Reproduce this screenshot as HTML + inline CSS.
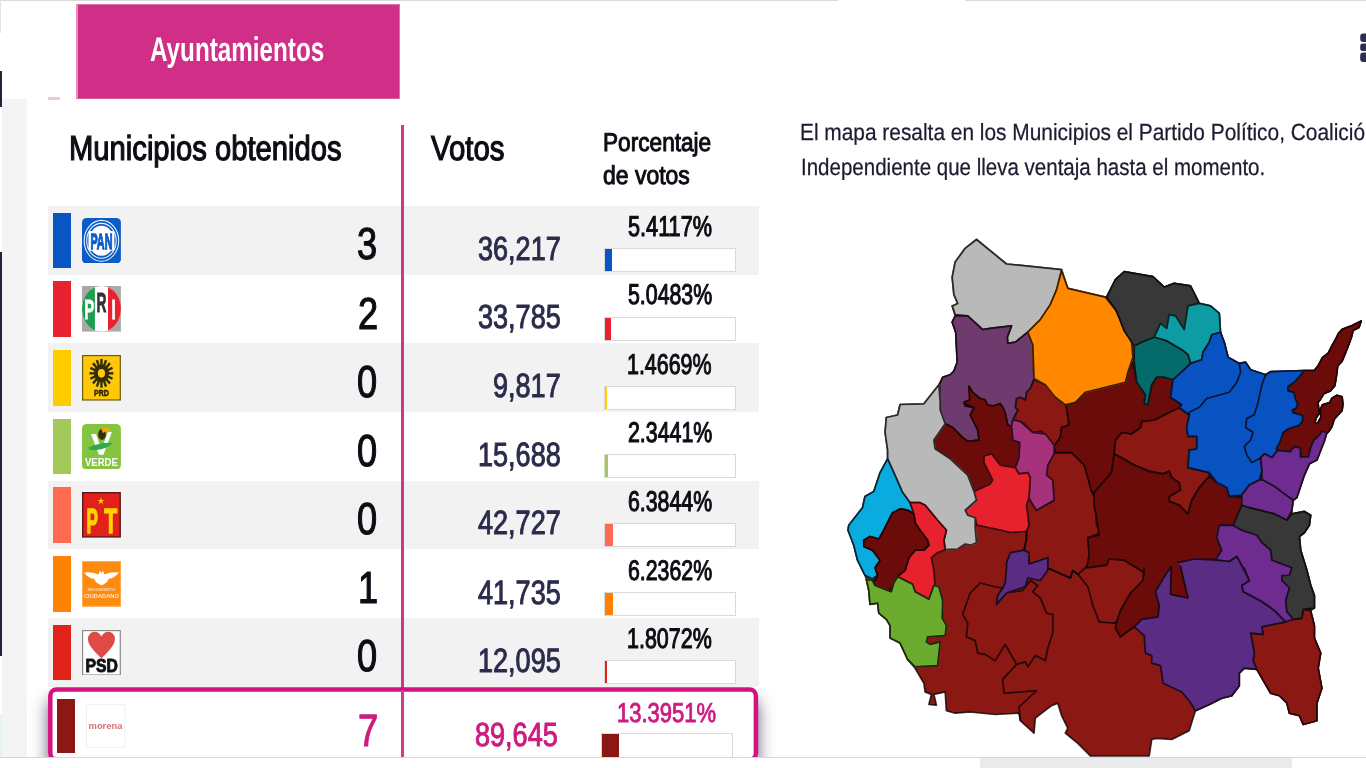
<!DOCTYPE html>
<html lang="es">
<head>
<meta charset="utf-8">
<title>Ayuntamientos</title>
<style>
html,body{margin:0;padding:0;}
body{width:1366px;height:768px;overflow:hidden;background:#fff;position:relative;font-family:"Liberation Sans", sans-serif;}
#page{position:absolute;left:0;top:0;width:1366px;height:768px;overflow:hidden;background:#fff;}
.a{position:absolute;}
.t{position:absolute;white-space:nowrap;line-height:1;transform-origin:0 0;text-rendering:geometricPrecision;}
.lg{position:absolute;display:block;}
.row{position:absolute;left:48px;width:710.5px;height:68.65px;}
.row.g{background:#f3f2f3;}
.bar{position:absolute;width:18px;height:55.8px;}
.pb{position:absolute;width:132px;height:24px;box-sizing:border-box;border:1.5px solid #d9d9d9;background:#fff;}
.pf{position:absolute;left:0;top:0;bottom:0;}
</style>
</head>
<body>
<div id="page">
<div class="a" style="left:0;top:0;width:838px;height:1px;background:#dadada"></div>
<div class="a" style="left:965px;top:0;width:401px;height:1px;background:#dadada"></div>
<div class="a" style="left:0;top:0;width:1px;height:33px;background:#e4e4e4"></div>
<div class="a" style="left:2px;top:98.5px;width:25px;height:659px;background:#f4f4f4"></div>
<div class="a" style="left:0;top:71px;width:1.5px;height:36px;background:#23233a"></div>
<div class="a" style="left:0;top:252px;width:1.5px;height:404px;background:#23233a"></div>
<div class="a" style="left:0;top:714px;width:2px;height:43px;background:#e3f1f8"></div>
<div class="a" style="left:48px;top:97px;width:12px;height:3px;background:#f5c3dd"></div>
<div class="a" style="left:76px;top:4px;width:323.5px;height:95px;background:#d12e87;box-sizing:border-box;border-left:2px solid #ee8cc0;border-top:1px solid #e070ae;border-bottom:1px solid #dd5ba3;border-right:1px solid #e070ae"></div>
<svg class="a" style="left:1359px;top:32px" width="8" height="32" viewBox="0 0 8 32"><rect x="1.2" y="1.5" width="10" height="8.5" rx="3" fill="#2d2e4e"/><rect x="1.2" y="11.5" width="10" height="7.5" rx="2.5" fill="#2d2e4e"/><rect x="1.2" y="20.5" width="10" height="9.5" rx="3" fill="#2d2e4e"/></svg>
<div class="row g" style="top:206.00px"></div>
<div class="bar" style="left:53px;top:212.60px;background:#0a55c4"></div>
<svg class="lg" style="left:82.2px;top:217.8px" width="38.9" height="45.6" viewBox="0 0 39 46" preserveAspectRatio="none"><rect x="0" y="0" width="39" height="46" rx="4.5" fill="#0b5cc7"/><ellipse cx="19.5" cy="23" rx="17.3" ry="20.6" fill="none" stroke="#e8f0fb" stroke-width="1.1"/><ellipse cx="19.5" cy="23" rx="14.8" ry="17.6" fill="none" stroke="#e8f0fb" stroke-width="1.1"/><ellipse cx="19.5" cy="23" rx="12.6" ry="15.2" fill="#fff"/><rect x="6.5" y="13" width="26" height="20" rx="2" fill="#fff"/><text x="19.5" y="31.2" text-anchor="middle" font-family="Liberation Sans, sans-serif" font-weight="700" font-size="22" textLength="22" lengthAdjust="spacingAndGlyphs" fill="#0b5cc7" stroke="#0b5cc7" stroke-width="1.3">PAN</text></svg>
<div class="pb" style="left:603.7px;top:248.40px"><div class="pf" style="width:6.98px;background:#0a55c4"></div></div>
<div class="row" style="top:274.65px"></div>
<div class="bar" style="left:53px;top:281.25px;background:#e8212f"></div>
<svg class="lg" style="left:82.2px;top:286.45px" width="38.9" height="45.6" viewBox="0 0 39 46" preserveAspectRatio="none"><rect width="39" height="46" fill="#a9a9a9"/><ellipse cx="19.5" cy="23" rx="19.5" ry="23" fill="#fff"/><path d="M13 1.3 A19.5 23 0 0 0 13 44.7 Z" fill="#1f9e4d"/><path d="M26 1.3 A19.5 23 0 0 1 26 44.7 Z" fill="#e8212f"/><rect x="13" y="1" width="13" height="44" fill="#fff"/><text x="7.3" y="33.5" text-anchor="middle" font-family="Liberation Sans, sans-serif" font-weight="700" font-size="27" textLength="10" lengthAdjust="spacingAndGlyphs" fill="#fff" stroke="#fff" stroke-width="0.9">P</text><text x="19.5" y="26" text-anchor="middle" font-family="Liberation Sans, sans-serif" font-weight="700" font-size="27" textLength="10" lengthAdjust="spacingAndGlyphs" fill="#333" stroke="#333" stroke-width="0.9">R</text><text x="31.7" y="33.5" text-anchor="middle" font-family="Liberation Sans, sans-serif" font-weight="700" font-size="27" textLength="4.2" lengthAdjust="spacingAndGlyphs" fill="#fff" stroke="#fff" stroke-width="0.9">I</text></svg>
<div class="pb" style="left:603.7px;top:317.05px"><div class="pf" style="width:6.51px;background:#e8212f"></div></div>
<div class="row g" style="top:343.30px"></div>
<div class="bar" style="left:53px;top:349.90px;background:#ffcc00"></div>
<svg class="lg" style="left:82.2px;top:355.1px" width="38.9" height="45.6" viewBox="0 0 39 46" preserveAspectRatio="none"><rect x="0.6" y="0.6" width="37.8" height="44.8" fill="#ffc90a" stroke="#6b5a10" stroke-width="1.2"/><line x1="24.5" y1="18.5" x2="31.5" y2="18.5" stroke="#332c08" stroke-width="2.4"/><line x1="24.1" y1="20.8" x2="30.6" y2="24.0" stroke="#332c08" stroke-width="2.4"/><line x1="23.0" y1="22.7" x2="28.0" y2="28.8" stroke="#332c08" stroke-width="2.4"/><line x1="21.4" y1="24.0" x2="24.1" y2="31.9" stroke="#332c08" stroke-width="2.4"/><line x1="19.5" y1="24.5" x2="19.5" y2="33.0" stroke="#332c08" stroke-width="2.4"/><line x1="17.6" y1="24.0" x2="14.9" y2="31.9" stroke="#332c08" stroke-width="2.4"/><line x1="16.0" y1="22.7" x2="11.0" y2="28.8" stroke="#332c08" stroke-width="2.4"/><line x1="14.9" y1="20.8" x2="8.4" y2="24.0" stroke="#332c08" stroke-width="2.4"/><line x1="14.5" y1="18.5" x2="7.5" y2="18.5" stroke="#332c08" stroke-width="2.4"/><line x1="14.9" y1="16.2" x2="8.4" y2="13.0" stroke="#332c08" stroke-width="2.4"/><line x1="16.0" y1="14.3" x2="11.0" y2="8.2" stroke="#332c08" stroke-width="2.4"/><line x1="17.6" y1="13.0" x2="14.9" y2="5.1" stroke="#332c08" stroke-width="2.4"/><line x1="19.5" y1="12.5" x2="19.5" y2="4.0" stroke="#332c08" stroke-width="2.4"/><line x1="21.4" y1="13.0" x2="24.1" y2="5.1" stroke="#332c08" stroke-width="2.4"/><line x1="23.0" y1="14.3" x2="28.0" y2="8.2" stroke="#332c08" stroke-width="2.4"/><line x1="24.1" y1="16.2" x2="30.6" y2="13.0" stroke="#332c08" stroke-width="2.4"/><ellipse cx="19.5" cy="18.5" rx="7.6" ry="9" fill="#332c08"/><ellipse cx="19.5" cy="18.5" rx="3.6" ry="4.4" fill="#ffc90a"/><text x="19.5" y="41.8" text-anchor="middle" font-family="Liberation Sans, sans-serif" font-weight="700" font-size="9" textLength="15" lengthAdjust="spacingAndGlyphs" fill="#2a2508" stroke="#2a2508" stroke-width="0.5">PRD</text></svg>
<div class="pb" style="left:603.7px;top:385.70px"><div class="pf" style="width:1.89px;background:#ffcc00"></div></div>
<div class="row" style="top:411.95px"></div>
<div class="bar" style="left:53px;top:418.55px;background:#a3c95a"></div>
<svg class="lg" style="left:82.2px;top:423.75px" width="38.9" height="45.6" viewBox="0 0 39 46" preserveAspectRatio="none"><rect width="39" height="46" rx="4.5" fill="#85c441"/><path d="M9 10 L14 10 L19.5 26 L26 8 L30 8 L21.5 31 L17 31 Z" fill="#fff"/><path d="M6 24 Q19 18 31 19 Q22 28 8 26 Z" fill="#2fa84f"/><ellipse cx="20" cy="10.5" rx="3.8" ry="5.6" fill="#3a2a10"/><path d="M19 4 Q27 2 29 8 Q24 6 21 9 Z" fill="#f2a900"/><text x="19.5" y="42" text-anchor="middle" font-family="Liberation Sans, sans-serif" font-weight="700" font-size="11" textLength="33" lengthAdjust="spacingAndGlyphs" fill="#fff" >VERDE</text></svg>
<div class="pb" style="left:603.7px;top:454.35px"><div class="pf" style="width:3.02px;background:#a3c95a"></div></div>
<div class="row g" style="top:480.60px"></div>
<div class="bar" style="left:53px;top:487.20px;background:#ff6a50"></div>
<svg class="lg" style="left:82.2px;top:492.4px" width="38.9" height="45.6" viewBox="0 0 39 46" preserveAspectRatio="none"><rect x="0.7" y="0.7" width="37.6" height="44.6" fill="#e2201c" stroke="#5a1a18" stroke-width="1.4"/><text x="10.2" y="41.3" text-anchor="middle" font-family="Liberation Sans, sans-serif" font-weight="700" font-size="35" textLength="11.5" lengthAdjust="spacingAndGlyphs" fill="#ffd400" stroke="#ffd400" stroke-width="1.3">P</text><text x="28.8" y="41.3" text-anchor="middle" font-family="Liberation Sans, sans-serif" font-weight="700" font-size="35" textLength="13" lengthAdjust="spacingAndGlyphs" fill="#ffd400" stroke="#ffd400" stroke-width="1.3">T</text><path d="M19 5.4 L19.8 8 L22.4 8 L20.3 9.7 L21.1 12.3 L19 10.7 L16.9 12.3 L17.7 9.7 L15.6 8 L18.2 8 Z" fill="#ffd400"/></svg>
<div class="pb" style="left:603.7px;top:523.00px"><div class="pf" style="width:8.24px;background:#ff6a50"></div></div>
<div class="row" style="top:549.25px"></div>
<div class="bar" style="left:53px;top:555.85px;background:#ff8300"></div>
<svg class="lg" style="left:82.2px;top:561.05px" width="38.9" height="45.6" viewBox="0 0 39 46" preserveAspectRatio="none"><rect width="39" height="46" fill="#ff8a10"/><rect x="0.5" y="0.5" width="38" height="45" fill="none" stroke="#ffab55" stroke-width="1"/><path d="M2 11.5 Q10 10.5 16.5 13.5 L18 9.5 L19.5 12 L21 9.5 L22.5 13.5 Q29 10.5 37 11.5 Q33 17 27 18 Q25.5 22 22 23.5 L19.5 24.5 L17 23.5 Q13.5 22 12 18 Q6 17 2 11.5 Z" fill="#fff"/><text x="19.5" y="30.3" text-anchor="middle" font-family="Liberation Sans, sans-serif" font-weight="700" font-size="4.2" textLength="28" lengthAdjust="spacingAndGlyphs" fill="#ffd9b0" >MOVIMIENTO</text><text x="19.5" y="37.3" text-anchor="middle" font-family="Liberation Sans, sans-serif" font-weight="700" font-size="6" textLength="35" lengthAdjust="spacingAndGlyphs" fill="#ffe8d0" >CIUDADANO</text></svg>
<div class="pb" style="left:603.7px;top:591.65px"><div class="pf" style="width:8.04px;background:#ff8300"></div></div>
<div class="row g" style="top:617.90px"></div>
<div class="bar" style="left:53px;top:624.50px;background:#e0221a"></div>
<svg class="lg" style="left:82.2px;top:629.7px" width="38.9" height="45.6" viewBox="0 0 39 46" preserveAspectRatio="none"><rect x="0.6" y="0.6" width="37.8" height="44.8" fill="#fff" stroke="#8a8a8a" stroke-width="1.2"/><path d="M19.5 28.5 C 7 17, 4 10.5, 7 5 C 10.5 0, 17 1, 19.5 6.5 C 22 1, 28.5 0, 32 5 C 35 10.5, 32 17, 19.5 28.5 Z" fill="#e04a44"/><text x="19.7" y="42.3" text-anchor="middle" font-family="Liberation Sans, sans-serif" font-weight="700" font-size="18" textLength="32.5" lengthAdjust="spacingAndGlyphs" fill="#111" stroke="#111" stroke-width="0.9">PSD</text></svg>
<div class="pb" style="left:603.7px;top:660.30px"><div class="pf" style="width:2.33px;background:#e0221a"></div></div>
<div class="a" style="left:400.6px;top:125px;width:3px;height:632px;background:#c9388b"></div>
<div class="a" style="left:0;top:688px;width:820px;height:80px;overflow:hidden"><div class="a" style="left:48px;top:-0.7px;width:710.2px;height:74px;border-radius:9px;background:#fff;box-shadow:0 12px 16px rgba(35,35,75,.72)"></div></div>
<svg class="a" style="left:0;top:680px" width="800" height="88" viewBox="0 680 800 88"><rect x="50.3" y="689.5" width="705.6" height="70" rx="6.2" ry="6.2" fill="#fff" stroke="#d4127f" stroke-width="4.5"/></svg>
<div class="a" style="left:400.6px;top:690px;width:3px;height:67px;background:#d03a90"></div>
<div class="bar" style="left:57.2px;top:698.9px;height:54.6px;width:17.6px;background:#8b1812"></div>
<svg class="lg" style="left:86.2px;top:703.9px" width="39.4" height="43.8" viewBox="0 0 39 46" preserveAspectRatio="none"><rect x="0.5" y="0.5" width="38" height="45" fill="#fff" stroke="#f1f1f1" stroke-width="1"/><text x="19.3" y="26.6" text-anchor="middle" font-family="Liberation Sans, sans-serif" font-weight="700" font-size="9" textLength="33.5" lengthAdjust="spacingAndGlyphs" fill="#d2727a" >morena</text></svg>
<div class="pb" style="left:600.6px;top:733.2px;height:30px"><div class="pf" style="width:17.6px;background:#8b1812"></div></div>
<span class="t" style="left:149.81px;top:32.80px;font-size:34.16px;color:#fff;transform:scaleX(0.7099);font-weight:700;">Ayuntamientos</span>
<span class="t" style="left:68.78px;top:132.30px;font-size:34.58px;color:#0c0c14;transform:scaleX(0.8443);-webkit-text-stroke:1.2px #0c0c14;">Municipios obtenidos</span>
<span class="t" style="left:431.16px;top:132.30px;font-size:34.58px;color:#0c0c14;transform:scaleX(0.8501);-webkit-text-stroke:1.2px #0c0c14;">Votos</span>
<span class="t" style="left:602.58px;top:131.25px;font-size:25.85px;color:#0c0c14;transform:scaleX(0.8758);-webkit-text-stroke:1.0px #0c0c14;">Porcentaje</span>
<span class="t" style="left:603.09px;top:164.25px;font-size:25.85px;color:#0c0c14;transform:scaleX(0.8887);-webkit-text-stroke:1.0px #0c0c14;">de votos</span>
<span class="t" style="left:357.43px;top:222.40px;font-size:44.74px;color:#0c0c14;transform:scaleX(0.8088);-webkit-text-stroke:1.2px #0c0c14;">3</span>
<span class="t" style="left:478.02px;top:232.86px;font-size:33.44px;color:#2b2c4c;transform:scaleX(0.8093);-webkit-text-stroke:1.0px #2b2c4c;">36,217</span>
<span class="t" style="left:628.35px;top:212.57px;font-size:28.55px;color:#0c0c14;transform:scaleX(0.7598);-webkit-text-stroke:1.1px #0c0c14;">5.4117%</span>
<span class="t" style="left:357.92px;top:291.74px;font-size:44.74px;color:#0c0c14;transform:scaleX(0.8088);-webkit-text-stroke:1.2px #0c0c14;">2</span>
<span class="t" style="left:477.95px;top:301.45px;font-size:33.49px;color:#2b2c4c;transform:scaleX(0.8082);-webkit-text-stroke:1.0px #2b2c4c;">33,785</span>
<span class="t" style="left:628.38px;top:281.26px;font-size:28.48px;color:#0c0c14;transform:scaleX(0.7488);-webkit-text-stroke:1.1px #0c0c14;">5.0483%</span>
<span class="t" style="left:357.07px;top:360.28px;font-size:44.74px;color:#0c0c14;transform:scaleX(0.8088);-webkit-text-stroke:1.2px #0c0c14;">0</span>
<span class="t" style="left:493.07px;top:370.03px;font-size:33.54px;color:#2b2c4c;transform:scaleX(0.8070);-webkit-text-stroke:1.0px #2b2c4c;">9,817</span>
<span class="t" style="left:627.35px;top:350.57px;font-size:28.61px;color:#0c0c14;transform:scaleX(0.7487);-webkit-text-stroke:1.1px #0c0c14;">1.4669%</span>
<span class="t" style="left:357.07px;top:428.82px;font-size:44.74px;color:#0c0c14;transform:scaleX(0.8088);-webkit-text-stroke:1.2px #0c0c14;">0</span>
<span class="t" style="left:477.97px;top:438.61px;font-size:33.59px;color:#2b2c4c;transform:scaleX(0.8059);-webkit-text-stroke:1.0px #2b2c4c;">15,688</span>
<span class="t" style="left:628.44px;top:419.26px;font-size:28.53px;color:#0c0c14;transform:scaleX(0.7485);-webkit-text-stroke:1.1px #0c0c14;">2.3441%</span>
<span class="t" style="left:357.07px;top:497.36px;font-size:44.74px;color:#0c0c14;transform:scaleX(0.8088);-webkit-text-stroke:1.2px #0c0c14;">0</span>
<span class="t" style="left:478.03px;top:507.20px;font-size:33.64px;color:#2b2c4c;transform:scaleX(0.8047);-webkit-text-stroke:1.0px #2b2c4c;">42,727</span>
<span class="t" style="left:628.36px;top:487.94px;font-size:28.46px;color:#0c0c14;transform:scaleX(0.7487);-webkit-text-stroke:1.1px #0c0c14;">6.3844%</span>
<span class="t" style="left:357.76px;top:565.90px;font-size:44.74px;color:#0c0c14;transform:scaleX(0.8088);-webkit-text-stroke:1.2px #0c0c14;">1</span>
<span class="t" style="left:477.95px;top:576.58px;font-size:33.68px;color:#2b2c4c;transform:scaleX(0.8036);-webkit-text-stroke:1.0px #2b2c4c;">41,735</span>
<span class="t" style="left:628.37px;top:556.63px;font-size:28.39px;color:#0c0c14;transform:scaleX(0.7507);-webkit-text-stroke:1.1px #0c0c14;">6.2362%</span>
<span class="t" style="left:357.07px;top:634.44px;font-size:44.74px;color:#0c0c14;transform:scaleX(0.8088);-webkit-text-stroke:1.2px #0c0c14;">0</span>
<span class="t" style="left:477.96px;top:645.16px;font-size:33.73px;color:#2b2c4c;transform:scaleX(0.8024);-webkit-text-stroke:1.0px #2b2c4c;">12,095</span>
<span class="t" style="left:627.35px;top:625.31px;font-size:28.32px;color:#0c0c14;transform:scaleX(0.7582);-webkit-text-stroke:1.1px #0c0c14;">1.8072%</span>
<span class="t" style="left:357.76px;top:708.09px;font-size:45.21px;color:#cc1b80;transform:scaleX(0.8044);-webkit-text-stroke:1.1px #cc1b80;">7</span>
<span class="t" style="left:474.77px;top:718.86px;font-size:33.44px;color:#cc1b80;transform:scaleX(0.8093);-webkit-text-stroke:1.0px #cc1b80;">89,645</span>
<span class="t" style="left:616.72px;top:698.65px;font-size:27.18px;color:#cc1b80;transform:scaleX(0.8106);-webkit-text-stroke:0.9px #cc1b80;">13.3951%</span>
<span class="t" style="left:800.34px;top:120.99px;font-size:23.40px;color:#1c1c30;transform:scaleX(0.8924);-webkit-text-stroke:0.25px #1c1c30;">El mapa resalta en los Municipios el Partido Político, Coalición o Candidatura</span>
<span class="t" style="left:800.71px;top:155.83px;font-size:23.54px;color:#1c1c30;transform:scaleX(0.8719);-webkit-text-stroke:0.25px #1c1c30;">Independiente que lleva ventaja hasta el momento.</span>
<svg class="a" id="map" style="left:0;top:0" width="1366" height="768" viewBox="0 0 1366 768">
<g stroke-linejoin="round">
<polygon fill="#8c1813" stroke="#0a0404" stroke-width="1.7" stroke-opacity="0.8" points="976.5,239.5 1006.5,264.0 1061.6,269.6 1067.8,288.3 1105.4,297.1 1106.6,297.1 1115.4,279.6 1124.2,271.6 1152.9,276.6 1164.2,287.1 1174.2,283.3 1190.5,285.8 1199.3,303.4 1210.5,305.9 1219.3,313.4 1220.5,332.2 1224.3,342.2 1228.1,357.2 1239.3,363.4 1245.6,362.2 1250.6,369.7 1265.6,374.7 1270.6,371.7 1304.4,370.5 1314.3,370.4 1318.0,366.0 1322.4,357.6 1328.2,353.2 1331.9,345.9 1335.5,339.3 1338.5,333.4 1342.1,329.4 1352.0,325.5 1361.2,321.0 1359.0,327.6 1353.1,330.5 1351.3,337.8 1348.0,346.6 1345.1,353.9 1342.1,361.2 1337.7,366.0 1336.3,377.0 1334.8,385.8 1330.4,390.9 1323.8,393.8 1320.2,399.7 1318.0,402.6 1318.7,408.5 1319.4,413.6 1316.0,418.0 1315.0,422.5 1317.5,423.5 1321.0,417.0 1320.9,415.8 1320.2,409.9 1322.4,404.8 1329.7,402.6 1331.9,398.2 1337.0,395.3 1342.1,396.7 1342.9,404.1 1342.1,410.7 1338.5,414.4 1334.1,419.5 1331.9,426.8 1329.0,431.2 1326.8,433.4 1323.2,442.6 1316.9,460.1 1309.4,463.8 1304.4,475.1 1299.4,490.1 1296.9,497.6 1293.2,500.2 1291.9,510.2 1291.9,513.9 1304.4,511.4 1310.7,515.2 1309.4,525.2 1304.4,532.7 1299.4,536.5 1300.7,550.2 1306.9,570.3 1310.7,585.3 1314.4,595.5 1314.4,608.1 1310.7,610.6 1314.4,625.6 1314.4,638.1 1320.7,653.1 1318.2,668.2 1321.9,688.2 1316.9,703.2 1316.9,720.7 1303.2,724.5 1299.4,715.7 1289.4,713.2 1286.9,703.2 1279.4,695.7 1270.6,693.2 1256.8,669.4 1244.3,668.2 1239.3,673.2 1239.3,685.7 1231.8,695.7 1221.8,698.2 1209.3,704.5 1195.5,710.7 1193.0,718.2 1189.2,730.7 1171.7,739.5 1156.7,738.3 1151.7,739.5 1149.2,755.8 1090.3,755.8 1077.8,743.3 1065.3,733.2 1067.8,728.2 1061.6,715.7 1057.8,703.2 1051.5,705.7 1035.3,718.2 1034.0,733.2 1020.3,720.7 1019.0,713.2 995.2,714.5 970.2,712.0 955.2,713.2 946.4,710.7 945.2,691.9 933.9,694.4 936.4,705.2 928.9,704.5 931.4,694.4 925.1,691.9 923.9,683.2 915.1,668.2 907.6,659.4 900.1,643.1 890.1,638.1 890.1,625.6 886.3,619.3 878.8,613.1 877.6,603.1 870.0,604.3 868.8,590.5 866.3,579.3 865.0,575.3 857.5,560.2 853.8,545.2 848.0,530.2 848.8,525.2 862.5,507.7 865.0,496.4 873.8,491.4 880.1,472.6 887.6,458.8 887.6,450.1 885.1,432.5 886.3,417.5 897.6,415.0 900.1,404.5 923.9,403.8 938.9,384.7 942.7,377.2 950.2,374.7 953.9,371.0 957.2,362.2 955.7,332.2 952.2,322.1 955.2,315.9 952.2,305.9 957.7,303.4 953.9,294.6 952.2,277.1 955.2,262.0 965.2,248.3"/>
<polygon fill="#8c1813" stroke="#8c1813" stroke-width="1.5" points="1034.0,379.7 1045.3,384.7 1055.3,397.2 1065.3,404.8 1066.6,407.5 1069.1,425.0 1061.6,427.5 1060.3,437.6 1054.0,446.3 1046.5,437.6 1041.5,431.3 1032.8,432.5 1024.0,423.8 1020.3,421.3 1012.8,420.0 1017.8,410.0 1015.3,407.3 1016.5,398.5 1020.3,397.2 1025.3,399.8 1026.5,392.2 1030.3,388.5"/>
<polygon fill="none" stroke="#0a0404" stroke-width="1.7" stroke-opacity="0.8" points="1034.0,379.7 1045.3,384.7 1055.3,397.2 1065.3,404.8 1066.6,407.5 1069.1,425.0 1061.6,427.5 1060.3,437.6 1054.0,446.3 1046.5,437.6 1041.5,431.3 1032.8,432.5 1024.0,423.8 1020.3,421.3 1012.8,420.0 1017.8,410.0 1015.3,407.3 1016.5,398.5 1020.3,397.2 1025.3,399.8 1026.5,392.2 1030.3,388.5"/>
<polygon fill="#8c1813" stroke="#8c1813" stroke-width="1.5" points="1054.1,453.8 1055.3,452.6 1072.8,452.6 1084.1,462.6 1087.9,477.6 1091.6,491.4 1095.4,500.2 1096.6,525.2 1100.4,532.7 1087.9,537.7 1090.4,550.2 1091.6,562.7 1086.6,566.5 1077.9,574.3 1072.8,570.5 1070.3,578.0 1047.8,568.0 1047.8,557.7 1040.3,560.2 1029.0,564.0 1029.0,552.7 1024.0,550.2 1026.5,539.0 1026.5,531.4 1029.0,525.2 1027.8,515.2 1026.5,505.2 1029.0,497.6 1031.5,502.7 1036.5,510.2 1045.3,505.2 1054.1,500.2 1052.8,480.1 1046.6,475.1 1047.8,465.1"/>
<polygon fill="none" stroke="#0a0404" stroke-width="1.7" stroke-opacity="0.8" points="1054.1,453.8 1055.3,452.6 1072.8,452.6 1084.1,462.6 1087.9,477.6 1091.6,491.4 1095.4,500.2 1096.6,525.2 1100.4,532.7 1087.9,537.7 1090.4,550.2 1091.6,562.7 1086.6,566.5 1077.9,574.3 1072.8,570.5 1070.3,578.0 1047.8,568.0 1047.8,557.7 1040.3,560.2 1029.0,564.0 1029.0,552.7 1024.0,550.2 1026.5,539.0 1026.5,531.4 1029.0,525.2 1027.8,515.2 1026.5,505.2 1029.0,497.6 1031.5,502.7 1036.5,510.2 1045.3,505.2 1054.1,500.2 1052.8,480.1 1046.6,475.1 1047.8,465.1"/>
<polygon fill="#8c1813" stroke="#8c1813" stroke-width="1.5" points="1114.1,453.8 1115.4,440.1 1121.6,432.5 1131.7,433.8 1140.4,427.5 1141.7,421.3 1154.2,420.0 1164.2,415.0 1179.2,407.5 1189.2,415.0 1186.7,427.5 1188.0,436.3 1196.8,436.3 1196.8,448.8 1189.2,450.1 1188.0,467.6 1209.3,472.6 1209.3,476.4 1199.3,487.6 1191.8,500.2 1188.0,513.9 1179.2,505.2 1169.2,501.4 1169.2,496.4 1180.5,490.1 1179.2,482.6 1171.7,477.6 1169.2,471.4 1163.0,473.9 1149.2,471.4 1134.2,465.1"/>
<polygon fill="none" stroke="#0a0404" stroke-width="1.7" stroke-opacity="0.8" points="1114.1,453.8 1115.4,440.1 1121.6,432.5 1131.7,433.8 1140.4,427.5 1141.7,421.3 1154.2,420.0 1164.2,415.0 1179.2,407.5 1189.2,415.0 1186.7,427.5 1188.0,436.3 1196.8,436.3 1196.8,448.8 1189.2,450.1 1188.0,467.6 1209.3,472.6 1209.3,476.4 1199.3,487.6 1191.8,500.2 1188.0,513.9 1179.2,505.2 1169.2,501.4 1169.2,496.4 1180.5,490.1 1179.2,482.6 1171.7,477.6 1169.2,471.4 1163.0,473.9 1149.2,471.4 1134.2,465.1"/>
<polygon fill="#8c1813" stroke="#8c1813" stroke-width="1.5" points="1303.2,609.3 1310.7,610.6 1314.4,625.6 1314.4,638.1 1320.7,653.1 1318.2,668.2 1321.9,688.2 1316.9,703.2 1316.9,720.7 1303.2,724.5 1299.4,715.7 1289.4,713.2 1286.9,703.2 1279.4,695.7 1270.6,693.2 1256.8,669.4 1253.1,660.6 1254.3,653.1 1250.6,633.1 1263.1,634.3 1261.9,626.8 1285.6,621.8 1293.2,619.3 1301.9,618.1"/>
<polygon fill="none" stroke="#0a0404" stroke-width="1.7" stroke-opacity="0.8" points="1303.2,609.3 1310.7,610.6 1314.4,625.6 1314.4,638.1 1320.7,653.1 1318.2,668.2 1321.9,688.2 1316.9,703.2 1316.9,720.7 1303.2,724.5 1299.4,715.7 1289.4,713.2 1286.9,703.2 1279.4,695.7 1270.6,693.2 1256.8,669.4 1253.1,660.6 1254.3,653.1 1250.6,633.1 1263.1,634.3 1261.9,626.8 1285.6,621.8 1293.2,619.3 1301.9,618.1"/>
<polygon fill="#8c1813" stroke="#8c1813" stroke-width="1.5" points="980.2,583.0 995.2,586.8 1002.7,588.0 997.7,595.5 996.5,604.3 1006.5,593.0 1022.8,590.5 1030.3,580.5 1037.8,585.5 1032.8,591.8 1040.3,598.0 1046.6,613.1 1052.8,614.3 1052.8,633.1 1047.8,648.1 1045.3,660.6 1035.3,655.6 1027.8,666.9 1025.3,661.9 1016.5,664.4 1005.2,644.4 995.2,660.6 985.2,654.4 977.7,653.1 975.2,640.6 966.4,636.9 967.7,623.1 962.7,614.3 970.2,593.0"/>
<polygon fill="none" stroke="#0a0404" stroke-width="1.7" stroke-opacity="0.8" points="980.2,583.0 995.2,586.8 1002.7,588.0 997.7,595.5 996.5,604.3 1006.5,593.0 1022.8,590.5 1030.3,580.5 1037.8,585.5 1032.8,591.8 1040.3,598.0 1046.6,613.1 1052.8,614.3 1052.8,633.1 1047.8,648.1 1045.3,660.6 1035.3,655.6 1027.8,666.9 1025.3,661.9 1016.5,664.4 1005.2,644.4 995.2,660.6 985.2,654.4 977.7,653.1 975.2,640.6 966.4,636.9 967.7,623.1 962.7,614.3 970.2,593.0"/>
<polygon fill="#6c0c0a" stroke="#6c0c0a" stroke-width="1.5" points="1132.9,362.2 1136.7,382.2 1145.4,394.7 1144.2,403.5 1147.9,404.8 1149.2,397.2 1151.7,384.7 1156.7,377.2 1164.2,377.2 1173.0,379.7 1170.5,397.2 1181.7,404.8 1179.2,407.5 1164.2,415.0 1154.2,420.0 1141.7,421.3 1140.4,427.5 1131.7,433.8 1121.6,432.5 1115.4,440.1 1114.1,453.8 1111.6,472.6 1094.1,492.6 1091.6,491.4 1087.8,477.6 1084.1,465.1 1071.6,452.6 1055.3,452.6 1054.0,446.3 1060.3,437.6 1061.6,427.5 1069.1,425.0 1066.6,407.5 1065.3,404.8 1075.4,402.3 1085.4,392.2 1105.4,387.2 1125.4,382.2 1127.9,372.2"/>
<polygon fill="none" stroke="#0a0404" stroke-width="1.7" stroke-opacity="0.8" points="1132.9,362.2 1136.7,382.2 1145.4,394.7 1144.2,403.5 1147.9,404.8 1149.2,397.2 1151.7,384.7 1156.7,377.2 1164.2,377.2 1173.0,379.7 1170.5,397.2 1181.7,404.8 1179.2,407.5 1164.2,415.0 1154.2,420.0 1141.7,421.3 1140.4,427.5 1131.7,433.8 1121.6,432.5 1115.4,440.1 1114.1,453.8 1111.6,472.6 1094.1,492.6 1091.6,491.4 1087.8,477.6 1084.1,465.1 1071.6,452.6 1055.3,452.6 1054.0,446.3 1060.3,437.6 1061.6,427.5 1069.1,425.0 1066.6,407.5 1065.3,404.8 1075.4,402.3 1085.4,392.2 1105.4,387.2 1125.4,382.2 1127.9,372.2"/>
<polygon fill="#6c0c0a" stroke="#6c0c0a" stroke-width="1.5" points="1094.1,492.6 1111.6,472.6 1114.1,453.8 1134.2,465.1 1149.2,471.4 1163.0,473.9 1169.2,471.4 1171.7,477.6 1179.2,482.6 1180.5,490.1 1169.2,496.4 1169.2,501.4 1179.2,505.2 1188.0,513.9 1191.8,500.2 1199.3,487.6 1209.3,476.4 1216.8,482.6 1226.8,487.6 1229.3,496.4 1242.3,497.1 1240.8,515.2 1233.8,525.2 1219.3,525.2 1216.8,537.7 1221.8,550.2 1216.8,559.2 1194.3,559.5 1178.0,562.7 1171.7,566.5 1166.7,573.0 1160.5,583.0 1155.4,591.8 1159.2,605.6 1158.0,616.8 1141.7,619.3 1134.2,626.8 1120.4,636.9 1115.4,628.1 1116.6,621.8 1120.4,610.6 1130.4,593.0 1142.9,580.5 1144.2,568.0 1142.9,580.3 1144.2,572.8 1124.2,560.2 1109.1,559.0 1106.6,565.2 1086.6,567.8 1089.1,555.2 1087.8,537.7 1099.1,535.2 1096.6,517.7 1094.1,505.2"/>
<polygon fill="none" stroke="#0a0404" stroke-width="1.7" stroke-opacity="0.8" points="1094.1,492.6 1111.6,472.6 1114.1,453.8 1134.2,465.1 1149.2,471.4 1163.0,473.9 1169.2,471.4 1171.7,477.6 1179.2,482.6 1180.5,490.1 1169.2,496.4 1169.2,501.4 1179.2,505.2 1188.0,513.9 1191.8,500.2 1199.3,487.6 1209.3,476.4 1216.8,482.6 1226.8,487.6 1229.3,496.4 1242.3,497.1 1240.8,515.2 1233.8,525.2 1219.3,525.2 1216.8,537.7 1221.8,550.2 1216.8,559.2 1194.3,559.5 1178.0,562.7 1171.7,566.5 1166.7,573.0 1160.5,583.0 1155.4,591.8 1159.2,605.6 1158.0,616.8 1141.7,619.3 1134.2,626.8 1120.4,636.9 1115.4,628.1 1116.6,621.8 1120.4,610.6 1130.4,593.0 1142.9,580.5 1144.2,568.0 1142.9,580.3 1144.2,572.8 1124.2,560.2 1109.1,559.0 1106.6,565.2 1086.6,567.8 1089.1,555.2 1087.8,537.7 1099.1,535.2 1096.6,517.7 1094.1,505.2"/>
<polygon fill="#6c0c0a" stroke="#6c0c0a" stroke-width="1.5" points="1304.4,370.5 1314.3,370.4 1318.0,366.0 1322.4,357.6 1328.2,353.2 1331.9,345.9 1335.5,339.3 1338.5,333.4 1342.1,329.4 1352.0,325.5 1361.2,321.0 1359.0,327.6 1353.1,330.5 1351.3,337.8 1348.0,346.6 1345.1,353.9 1342.1,361.2 1337.7,366.0 1336.3,377.0 1334.8,385.8 1330.4,390.9 1323.8,393.8 1320.2,399.7 1318.0,402.6 1318.7,408.5 1319.4,413.6 1316.0,418.0 1315.0,422.5 1317.5,423.5 1321.0,417.0 1320.9,415.8 1320.2,409.9 1322.4,404.8 1329.7,402.6 1331.9,398.2 1337.0,395.3 1342.1,396.7 1342.9,404.1 1342.1,410.7 1338.5,414.4 1334.1,419.5 1331.9,426.8 1329.0,431.2 1326.8,433.4 1321.6,431.2 1320.2,434.2 1313.6,440.7 1310.7,447.3 1308.5,456.9 1300.4,456.9 1300.4,448.1 1295.3,446.6 1291.6,449.5 1290.2,451.7 1278.4,450.3 1276.2,448.8 1280.6,440.7 1282.8,432.7 1288.0,429.0 1298.9,425.4 1302.6,421.0 1302.6,415.9 1299.7,414.3 1293.1,412.9 1292.4,409.9 1296.7,407.7 1297.5,404.1 1295.3,398.2 1293.8,392.4 1288.0,390.9 1288.0,386.5 1295.3,381.4"/>
<polygon fill="none" stroke="#0a0404" stroke-width="1.7" stroke-opacity="0.8" points="1304.4,370.5 1314.3,370.4 1318.0,366.0 1322.4,357.6 1328.2,353.2 1331.9,345.9 1335.5,339.3 1338.5,333.4 1342.1,329.4 1352.0,325.5 1361.2,321.0 1359.0,327.6 1353.1,330.5 1351.3,337.8 1348.0,346.6 1345.1,353.9 1342.1,361.2 1337.7,366.0 1336.3,377.0 1334.8,385.8 1330.4,390.9 1323.8,393.8 1320.2,399.7 1318.0,402.6 1318.7,408.5 1319.4,413.6 1316.0,418.0 1315.0,422.5 1317.5,423.5 1321.0,417.0 1320.9,415.8 1320.2,409.9 1322.4,404.8 1329.7,402.6 1331.9,398.2 1337.0,395.3 1342.1,396.7 1342.9,404.1 1342.1,410.7 1338.5,414.4 1334.1,419.5 1331.9,426.8 1329.0,431.2 1326.8,433.4 1321.6,431.2 1320.2,434.2 1313.6,440.7 1310.7,447.3 1308.5,456.9 1300.4,456.9 1300.4,448.1 1295.3,446.6 1291.6,449.5 1290.2,451.7 1278.4,450.3 1276.2,448.8 1280.6,440.7 1282.8,432.7 1288.0,429.0 1298.9,425.4 1302.6,421.0 1302.6,415.9 1299.7,414.3 1293.1,412.9 1292.4,409.9 1296.7,407.7 1297.5,404.1 1295.3,398.2 1293.8,392.4 1288.0,390.9 1288.0,386.5 1295.3,381.4"/>
<polygon fill="#b9b9b9" stroke="#b9b9b9" stroke-width="1.5" points="976.5,239.5 1006.5,264.0 1061.6,269.6 1056.6,289.6 1050.3,304.6 1040.3,319.6 1027.8,332.2 1015.3,342.2 1007.8,343.4 1007.3,337.2 1011.5,325.9 990.2,328.4 982.7,329.6 967.7,315.9 955.2,314.6 952.2,305.9 957.7,303.4 953.9,294.6 952.2,277.1 955.2,262.0 965.2,248.3"/>
<polygon fill="none" stroke="#0a0404" stroke-width="1.7" stroke-opacity="0.8" points="976.5,239.5 1006.5,264.0 1061.6,269.6 1056.6,289.6 1050.3,304.6 1040.3,319.6 1027.8,332.2 1015.3,342.2 1007.8,343.4 1007.3,337.2 1011.5,325.9 990.2,328.4 982.7,329.6 967.7,315.9 955.2,314.6 952.2,305.9 957.7,303.4 953.9,294.6 952.2,277.1 955.2,262.0 965.2,248.3"/>
<polygon fill="#6f3a6d" stroke="#6f3a6d" stroke-width="1.5" points="955.2,315.9 967.7,315.9 982.7,329.6 990.2,328.4 1011.5,325.9 1007.3,337.2 1007.8,343.4 1015.3,342.2 1027.8,332.2 1032.8,344.7 1034.0,378.5 1030.3,388.5 1026.5,392.2 1025.3,399.8 1020.3,397.2 1016.5,398.5 1015.3,407.3 1017.8,410.0 1012.8,420.0 1011.5,426.3 1007.8,425.0 979.0,440.1 967.7,441.3 962.7,437.6 952.7,427.5 945.2,423.8 940.2,410.0 940.2,402.3 939.6,384.7 942.7,377.2 950.2,374.7 953.9,371.0 957.2,362.2 955.7,332.2 952.2,322.1"/>
<polygon fill="none" stroke="#0a0404" stroke-width="1.7" stroke-opacity="0.8" points="955.2,315.9 967.7,315.9 982.7,329.6 990.2,328.4 1011.5,325.9 1007.3,337.2 1007.8,343.4 1015.3,342.2 1027.8,332.2 1032.8,344.7 1034.0,378.5 1030.3,388.5 1026.5,392.2 1025.3,399.8 1020.3,397.2 1016.5,398.5 1015.3,407.3 1017.8,410.0 1012.8,420.0 1011.5,426.3 1007.8,425.0 979.0,440.1 967.7,441.3 962.7,437.6 952.7,427.5 945.2,423.8 940.2,410.0 940.2,402.3 939.6,384.7 942.7,377.2 950.2,374.7 953.9,371.0 957.2,362.2 955.7,332.2 952.2,322.1"/>
<polygon fill="#6c0c0a" stroke="#6c0c0a" stroke-width="1.5" points="968.9,386.0 972.7,392.2 980.2,398.5 985.2,399.8 987.7,404.8 992.7,406.0 1000.2,403.5 1002.7,407.3 1005.2,412.5 1007.8,425.0 1011.5,426.3 1012.8,440.1 1019.8,442.6 1019.0,457.6 1015.3,467.6 1000.2,465.1 991.5,453.8 984.0,456.3 984.0,462.6 992.7,480.1 990.2,483.9 974.0,491.4 967.7,475.1 950.2,458.8 935.1,448.8 933.9,440.1 945.2,423.8 952.7,427.5 962.7,437.6 967.7,441.3 979.0,440.1 977.7,430.0 970.2,415.0 974.0,407.5 965.2,403.8 972.7,407.3 965.2,406.0 963.9,402.3 969.7,399.8"/>
<polygon fill="none" stroke="#0a0404" stroke-width="1.7" stroke-opacity="0.8" points="968.9,386.0 972.7,392.2 980.2,398.5 985.2,399.8 987.7,404.8 992.7,406.0 1000.2,403.5 1002.7,407.3 1005.2,412.5 1007.8,425.0 1011.5,426.3 1012.8,440.1 1019.8,442.6 1019.0,457.6 1015.3,467.6 1000.2,465.1 991.5,453.8 984.0,456.3 984.0,462.6 992.7,480.1 990.2,483.9 974.0,491.4 967.7,475.1 950.2,458.8 935.1,448.8 933.9,440.1 945.2,423.8 952.7,427.5 962.7,437.6 967.7,441.3 979.0,440.1 977.7,430.0 970.2,415.0 974.0,407.5 965.2,403.8 972.7,407.3 965.2,406.0 963.9,402.3 969.7,399.8"/>
<polygon fill="#ff8800" stroke="#ff8800" stroke-width="1.5" points="1061.6,270.8 1067.8,288.3 1105.4,297.1 1115.4,309.6 1125.4,330.9 1131.7,342.2 1132.9,357.2 1127.9,372.2 1125.4,382.2 1105.4,387.2 1085.4,392.2 1075.4,402.3 1065.3,404.8 1055.3,397.2 1045.3,384.7 1034.0,378.5 1032.8,344.7 1027.8,332.2 1040.3,319.6 1050.3,304.6 1056.6,289.6"/>
<polygon fill="none" stroke="#0a0404" stroke-width="1.7" stroke-opacity="0.8" points="1061.6,270.8 1067.8,288.3 1105.4,297.1 1115.4,309.6 1125.4,330.9 1131.7,342.2 1132.9,357.2 1127.9,372.2 1125.4,382.2 1105.4,387.2 1085.4,392.2 1075.4,402.3 1065.3,404.8 1055.3,397.2 1045.3,384.7 1034.0,378.5 1032.8,344.7 1027.8,332.2 1040.3,319.6 1050.3,304.6 1056.6,289.6"/>
<polygon fill="#383838" stroke="#383838" stroke-width="1.5" points="1124.2,271.6 1152.9,276.6 1164.2,287.1 1174.2,283.3 1190.5,285.8 1199.3,303.4 1188.0,305.9 1184.2,329.6 1175.5,315.9 1169.2,314.6 1166.7,328.4 1160.5,323.4 1154.2,337.2 1141.7,342.2 1134.2,345.9 1124.2,330.9 1116.6,310.9 1106.6,297.1 1115.4,279.6"/>
<polygon fill="none" stroke="#0a0404" stroke-width="1.7" stroke-opacity="0.8" points="1124.2,271.6 1152.9,276.6 1164.2,287.1 1174.2,283.3 1190.5,285.8 1199.3,303.4 1188.0,305.9 1184.2,329.6 1175.5,315.9 1169.2,314.6 1166.7,328.4 1160.5,323.4 1154.2,337.2 1141.7,342.2 1134.2,345.9 1124.2,330.9 1116.6,310.9 1106.6,297.1 1115.4,279.6"/>
<polygon fill="#0d9ca4" stroke="#0d9ca4" stroke-width="1.5" points="1188.0,305.9 1199.3,303.4 1210.5,305.9 1219.3,313.4 1220.5,332.2 1211.8,334.7 1209.3,342.2 1203.0,352.2 1201.8,359.7 1190.5,363.4 1188.0,354.7 1181.7,349.7 1166.7,340.9 1154.2,337.2 1160.5,323.4 1166.7,328.4 1169.2,314.6 1175.5,315.9 1184.2,329.6"/>
<polygon fill="none" stroke="#0a0404" stroke-width="1.7" stroke-opacity="0.8" points="1188.0,305.9 1199.3,303.4 1210.5,305.9 1219.3,313.4 1220.5,332.2 1211.8,334.7 1209.3,342.2 1203.0,352.2 1201.8,359.7 1190.5,363.4 1188.0,354.7 1181.7,349.7 1166.7,340.9 1154.2,337.2 1160.5,323.4 1166.7,328.4 1169.2,314.6 1175.5,315.9 1184.2,329.6"/>
<polygon fill="#056a6a" stroke="#056a6a" stroke-width="1.5" points="1134.2,345.9 1141.7,342.2 1154.2,337.2 1166.7,340.9 1181.7,349.7 1188.0,354.7 1190.5,363.4 1184.2,369.7 1178.0,376.0 1173.0,379.7 1164.2,377.2 1156.7,377.2 1151.7,384.7 1149.2,397.2 1147.9,404.8 1144.2,403.5 1145.4,394.7 1136.7,382.2 1134.2,362.2"/>
<polygon fill="none" stroke="#0a0404" stroke-width="1.7" stroke-opacity="0.8" points="1134.2,345.9 1141.7,342.2 1154.2,337.2 1166.7,340.9 1181.7,349.7 1188.0,354.7 1190.5,363.4 1184.2,369.7 1178.0,376.0 1173.0,379.7 1164.2,377.2 1156.7,377.2 1151.7,384.7 1149.2,397.2 1147.9,404.8 1144.2,403.5 1145.4,394.7 1136.7,382.2 1134.2,362.2"/>
<polygon fill="#0952c1" stroke="#0952c1" stroke-width="1.5" points="1220.5,332.2 1224.3,342.2 1228.1,357.2 1239.3,363.4 1245.6,362.2 1250.6,369.7 1265.6,374.7 1270.6,371.7 1304.4,370.5 1295.3,381.4 1288.0,386.5 1288.0,390.9 1293.8,392.4 1295.3,398.2 1297.5,404.1 1296.7,407.7 1292.4,409.9 1293.1,412.9 1299.7,414.3 1302.6,415.9 1302.6,421.0 1298.9,425.4 1288.0,429.0 1282.8,432.7 1280.6,440.7 1276.2,448.8 1278.4,450.3 1290.2,451.7 1291.6,449.5 1295.3,446.6 1300.4,448.1 1300.4,456.9 1276.9,451.3 1271.9,457.6 1264.4,453.8 1260.6,457.6 1261.9,470.1 1259.4,480.1 1249.3,485.1 1241.8,495.1 1229.3,496.4 1226.8,487.6 1216.8,482.6 1209.3,472.6 1188.0,467.6 1189.2,450.1 1196.8,448.8 1196.8,436.3 1188.0,436.3 1186.7,427.5 1189.2,415.0 1179.2,407.5 1181.7,404.8 1170.5,397.2 1173.0,379.7 1184.2,369.7 1190.5,363.4 1201.8,359.7 1203.0,352.2 1209.3,342.2 1211.8,334.7"/>
<polygon fill="none" stroke="#0a0404" stroke-width="1.7" stroke-opacity="0.8" points="1220.5,332.2 1224.3,342.2 1228.1,357.2 1239.3,363.4 1245.6,362.2 1250.6,369.7 1265.6,374.7 1270.6,371.7 1304.4,370.5 1295.3,381.4 1288.0,386.5 1288.0,390.9 1293.8,392.4 1295.3,398.2 1297.5,404.1 1296.7,407.7 1292.4,409.9 1293.1,412.9 1299.7,414.3 1302.6,415.9 1302.6,421.0 1298.9,425.4 1288.0,429.0 1282.8,432.7 1280.6,440.7 1276.2,448.8 1278.4,450.3 1290.2,451.7 1291.6,449.5 1295.3,446.6 1300.4,448.1 1300.4,456.9 1276.9,451.3 1271.9,457.6 1264.4,453.8 1260.6,457.6 1261.9,470.1 1259.4,480.1 1249.3,485.1 1241.8,495.1 1229.3,496.4 1226.8,487.6 1216.8,482.6 1209.3,472.6 1188.0,467.6 1189.2,450.1 1196.8,448.8 1196.8,436.3 1188.0,436.3 1186.7,427.5 1189.2,415.0 1179.2,407.5 1181.7,404.8 1170.5,397.2 1173.0,379.7 1184.2,369.7 1190.5,363.4 1201.8,359.7 1203.0,352.2 1209.3,342.2 1211.8,334.7"/>
<polygon fill="#6e2c90" stroke="#6e2c90" stroke-width="1.5" points="1264.4,453.8 1271.9,457.6 1276.9,451.3 1278.4,450.3 1290.2,451.7 1291.6,449.5 1295.3,446.6 1300.4,448.1 1300.4,456.9 1308.5,456.9 1310.7,447.3 1313.6,440.7 1320.2,434.2 1321.6,431.2 1326.8,432.5 1324.6,440.7 1316.9,460.1 1309.4,463.8 1304.4,475.1 1299.4,490.1 1296.9,497.6 1293.2,500.2 1284.4,493.9 1274.4,486.4 1261.9,479.6 1261.9,470.1 1260.6,457.6"/>
<polygon fill="none" stroke="#0a0404" stroke-width="1.7" stroke-opacity="0.8" points="1264.4,453.8 1271.9,457.6 1276.9,451.3 1278.4,450.3 1290.2,451.7 1291.6,449.5 1295.3,446.6 1300.4,448.1 1300.4,456.9 1308.5,456.9 1310.7,447.3 1313.6,440.7 1320.2,434.2 1321.6,431.2 1326.8,432.5 1324.6,440.7 1316.9,460.1 1309.4,463.8 1304.4,475.1 1299.4,490.1 1296.9,497.6 1293.2,500.2 1284.4,493.9 1274.4,486.4 1261.9,479.6 1261.9,470.1 1260.6,457.6"/>
<polygon fill="#6e2c90" stroke="#6e2c90" stroke-width="1.5" points="1261.9,479.6 1274.4,486.4 1284.4,493.9 1293.2,500.2 1291.9,510.2 1286.9,520.2 1274.4,513.9 1264.4,511.4 1249.3,507.7 1241.8,505.2 1241.8,495.1 1249.3,485.1 1259.4,480.1"/>
<polygon fill="none" stroke="#0a0404" stroke-width="1.7" stroke-opacity="0.8" points="1261.9,479.6 1274.4,486.4 1284.4,493.9 1293.2,500.2 1291.9,510.2 1286.9,520.2 1274.4,513.9 1264.4,511.4 1249.3,507.7 1241.8,505.2 1241.8,495.1 1249.3,485.1 1259.4,480.1"/>
<polygon fill="#383838" stroke="#383838" stroke-width="1.5" points="1241.8,505.2 1249.3,507.7 1264.4,511.4 1274.4,513.9 1286.9,520.2 1291.9,513.9 1304.4,511.4 1310.7,515.2 1309.4,525.2 1304.4,532.7 1299.4,536.5 1300.7,550.2 1306.9,570.3 1310.7,585.3 1314.4,595.5 1314.4,608.1 1303.2,609.3 1301.9,618.1 1293.2,619.3 1286.9,611.8 1285.6,600.5 1289.4,588.0 1281.9,580.5 1281.9,575.5 1289.4,573.0 1291.9,568.0 1291.9,567.8 1271.9,560.2 1270.6,550.2 1261.9,542.7 1256.8,535.2 1241.8,530.2 1233.1,525.2"/>
<polygon fill="none" stroke="#0a0404" stroke-width="1.7" stroke-opacity="0.8" points="1241.8,505.2 1249.3,507.7 1264.4,511.4 1274.4,513.9 1286.9,520.2 1291.9,513.9 1304.4,511.4 1310.7,515.2 1309.4,525.2 1304.4,532.7 1299.4,536.5 1300.7,550.2 1306.9,570.3 1310.7,585.3 1314.4,595.5 1314.4,608.1 1303.2,609.3 1301.9,618.1 1293.2,619.3 1286.9,611.8 1285.6,600.5 1289.4,588.0 1281.9,580.5 1281.9,575.5 1289.4,573.0 1291.9,568.0 1291.9,567.8 1271.9,560.2 1270.6,550.2 1261.9,542.7 1256.8,535.2 1241.8,530.2 1233.1,525.2"/>
<polygon fill="#6e2c90" stroke="#6e2c90" stroke-width="1.5" points="1219.3,525.2 1233.1,525.4 1241.8,530.2 1256.8,535.2 1261.9,542.7 1270.6,550.2 1271.9,560.2 1291.9,567.8 1289.4,575.3 1281.9,575.5 1281.9,580.5 1289.4,588.0 1285.6,600.5 1286.9,611.8 1293.2,619.3 1285.6,621.8 1274.4,610.6 1261.9,601.8 1243.1,591.8 1241.8,585.5 1249.3,580.5 1244.3,568.0 1244.3,570.3 1236.8,556.5 1229.3,561.5 1216.8,560.2 1216.8,557.7 1221.8,550.2 1216.8,537.7"/>
<polygon fill="none" stroke="#0a0404" stroke-width="1.7" stroke-opacity="0.8" points="1219.3,525.2 1233.1,525.4 1241.8,530.2 1256.8,535.2 1261.9,542.7 1270.6,550.2 1271.9,560.2 1291.9,567.8 1289.4,575.3 1281.9,575.5 1281.9,580.5 1289.4,588.0 1285.6,600.5 1286.9,611.8 1293.2,619.3 1285.6,621.8 1274.4,610.6 1261.9,601.8 1243.1,591.8 1241.8,585.5 1249.3,580.5 1244.3,568.0 1244.3,570.3 1236.8,556.5 1229.3,561.5 1216.8,560.2 1216.8,557.7 1221.8,550.2 1216.8,537.7"/>
<polygon fill="#5b2c83" stroke="#5b2c83" stroke-width="1.5" points="1178.0,562.7 1194.3,559.0 1216.8,560.2 1229.3,561.5 1236.8,556.5 1244.3,570.3 1249.3,580.5 1241.8,585.5 1243.1,591.8 1261.9,601.8 1274.4,610.6 1285.6,621.8 1261.9,626.8 1263.1,634.3 1250.6,633.1 1254.3,653.1 1253.1,660.6 1256.8,669.4 1244.3,668.2 1239.3,673.2 1239.3,685.7 1231.8,695.7 1221.8,698.2 1209.3,704.5 1195.5,710.7 1189.2,700.7 1181.7,691.9 1163.0,683.2 1160.5,665.6 1151.7,663.1 1151.7,655.6 1145.4,653.1 1144.2,635.6 1134.2,626.8 1141.7,619.3 1158.0,616.8 1159.2,605.6 1155.4,591.8 1160.5,583.0 1166.7,573.0 1171.7,566.5"/>
<polygon fill="none" stroke="#0a0404" stroke-width="1.7" stroke-opacity="0.8" points="1178.0,562.7 1194.3,559.0 1216.8,560.2 1229.3,561.5 1236.8,556.5 1244.3,570.3 1249.3,580.5 1241.8,585.5 1243.1,591.8 1261.9,601.8 1274.4,610.6 1285.6,621.8 1261.9,626.8 1263.1,634.3 1250.6,633.1 1254.3,653.1 1253.1,660.6 1256.8,669.4 1244.3,668.2 1239.3,673.2 1239.3,685.7 1231.8,695.7 1221.8,698.2 1209.3,704.5 1195.5,710.7 1189.2,700.7 1181.7,691.9 1163.0,683.2 1160.5,665.6 1151.7,663.1 1151.7,655.6 1145.4,653.1 1144.2,635.6 1134.2,626.8 1141.7,619.3 1158.0,616.8 1159.2,605.6 1155.4,591.8 1160.5,583.0 1166.7,573.0 1171.7,566.5"/>
<polygon fill="#6c0c0a" points="1171.7,564.5 1177.2,562.5 1180.7,566.5 1188.0,598.0 1170.5,594.3 1171.2,566.5"/>
<polygon fill="#a6327c" stroke="#a6327c" stroke-width="1.5" points="1012.8,420.0 1020.3,421.3 1032.8,432.5 1045.3,433.8 1054.1,445.1 1054.1,453.8 1047.8,465.1 1046.6,475.1 1052.8,480.1 1054.1,500.2 1045.3,505.2 1036.5,510.2 1031.5,502.7 1029.0,497.6 1030.3,477.6 1027.8,472.6 1019.0,473.9 1015.3,467.6 1019.0,457.6 1019.8,442.6 1012.8,440.1 1011.5,426.3"/>
<polygon fill="none" stroke="#0a0404" stroke-width="1.7" stroke-opacity="0.8" points="1012.8,420.0 1020.3,421.3 1032.8,432.5 1045.3,433.8 1054.1,445.1 1054.1,453.8 1047.8,465.1 1046.6,475.1 1052.8,480.1 1054.1,500.2 1045.3,505.2 1036.5,510.2 1031.5,502.7 1029.0,497.6 1030.3,477.6 1027.8,472.6 1019.0,473.9 1015.3,467.6 1019.0,457.6 1019.8,442.6 1012.8,440.1 1011.5,426.3"/>
<polygon fill="#e8212f" stroke="#e8212f" stroke-width="1.5" points="984.0,456.3 991.5,453.8 1000.2,465.1 1015.3,467.6 1019.0,473.9 1027.8,472.6 1030.3,477.6 1029.0,497.6 1026.5,505.2 1027.8,515.2 1029.0,525.2 1026.5,531.4 1010.3,532.7 1000.2,530.2 976.5,525.2 975.2,517.7 967.7,515.2 965.2,510.2 976.5,500.2 974.0,491.4 990.2,483.9 992.7,480.1 984.0,462.6"/>
<polygon fill="none" stroke="#0a0404" stroke-width="1.7" stroke-opacity="0.8" points="984.0,456.3 991.5,453.8 1000.2,465.1 1015.3,467.6 1019.0,473.9 1027.8,472.6 1030.3,477.6 1029.0,497.6 1026.5,505.2 1027.8,515.2 1029.0,525.2 1026.5,531.4 1010.3,532.7 1000.2,530.2 976.5,525.2 975.2,517.7 967.7,515.2 965.2,510.2 976.5,500.2 974.0,491.4 990.2,483.9 992.7,480.1 984.0,462.6"/>
<polygon fill="#b9b9b9" stroke="#b9b9b9" stroke-width="1.5" points="938.9,384.7 940.2,402.3 940.2,410.0 945.2,423.8 933.9,440.1 935.1,448.8 950.2,458.8 967.7,475.1 974.0,491.4 976.5,500.2 965.2,510.2 967.7,515.2 975.2,517.7 975.2,527.7 976.5,542.7 970.2,545.2 965.2,544.0 957.7,549.0 945.2,549.7 943.9,540.2 946.4,530.2 937.6,520.2 925.1,505.2 920.1,502.7 910.1,502.7 902.6,492.6 893.8,472.6 887.6,458.8 887.6,450.1 885.1,432.5 886.3,417.5 897.6,415.0 900.1,404.5 923.9,403.8"/>
<polygon fill="none" stroke="#0a0404" stroke-width="1.7" stroke-opacity="0.8" points="938.9,384.7 940.2,402.3 940.2,410.0 945.2,423.8 933.9,440.1 935.1,448.8 950.2,458.8 967.7,475.1 974.0,491.4 976.5,500.2 965.2,510.2 967.7,515.2 975.2,517.7 975.2,527.7 976.5,542.7 970.2,545.2 965.2,544.0 957.7,549.0 945.2,549.7 943.9,540.2 946.4,530.2 937.6,520.2 925.1,505.2 920.1,502.7 910.1,502.7 902.6,492.6 893.8,472.6 887.6,458.8 887.6,450.1 885.1,432.5 886.3,417.5 897.6,415.0 900.1,404.5 923.9,403.8"/>
<polygon fill="#0aace0" stroke="#0aace0" stroke-width="1.5" points="887.6,458.8 893.8,472.6 902.6,492.6 910.1,502.7 913.9,512.7 907.6,510.2 900.1,508.9 892.6,512.7 883.8,530.2 878.8,539.0 870.0,536.5 863.8,540.2 863.8,546.5 872.5,550.2 880.1,560.2 875.1,567.8 877.6,575.3 872.5,579.0 865.0,575.3 857.5,560.2 853.8,545.2 848.0,530.2 848.8,525.2 862.5,507.7 865.0,496.4 873.8,491.4 880.1,472.6"/>
<polygon fill="none" stroke="#0a0404" stroke-width="1.7" stroke-opacity="0.8" points="887.6,458.8 893.8,472.6 902.6,492.6 910.1,502.7 913.9,512.7 907.6,510.2 900.1,508.9 892.6,512.7 883.8,530.2 878.8,539.0 870.0,536.5 863.8,540.2 863.8,546.5 872.5,550.2 880.1,560.2 875.1,567.8 877.6,575.3 872.5,579.0 865.0,575.3 857.5,560.2 853.8,545.2 848.0,530.2 848.8,525.2 862.5,507.7 865.0,496.4 873.8,491.4 880.1,472.6"/>
<polygon fill="#e8212f" stroke="#e8212f" stroke-width="1.5" points="912.6,502.7 920.1,502.7 925.1,505.2 937.6,520.2 946.4,530.2 943.9,540.2 945.2,549.7 937.6,552.7 931.4,557.7 933.9,570.3 935.1,585.3 933.9,585.5 928.9,599.3 915.1,591.8 912.6,584.3 897.6,576.8 898.8,575.3 905.1,570.3 908.9,557.7 915.1,550.2 923.9,550.2 928.9,545.2 927.6,540.2 920.1,530.2 915.1,522.7 913.9,513.9 910.1,502.7"/>
<polygon fill="none" stroke="#0a0404" stroke-width="1.7" stroke-opacity="0.8" points="912.6,502.7 920.1,502.7 925.1,505.2 937.6,520.2 946.4,530.2 943.9,540.2 945.2,549.7 937.6,552.7 931.4,557.7 933.9,570.3 935.1,585.3 933.9,585.5 928.9,599.3 915.1,591.8 912.6,584.3 897.6,576.8 898.8,575.3 905.1,570.3 908.9,557.7 915.1,550.2 923.9,550.2 928.9,545.2 927.6,540.2 920.1,530.2 915.1,522.7 913.9,513.9 910.1,502.7"/>
<polygon fill="#6c0c0a" stroke="#6c0c0a" stroke-width="1.5" points="900.1,508.9 907.6,510.2 913.9,513.9 915.1,522.7 920.1,530.2 927.6,540.2 928.9,545.2 923.9,550.2 915.1,550.2 908.9,557.7 905.1,570.3 898.8,575.3 893.8,585.3 890.1,589.0 891.3,591.8 887.6,590.5 875.1,585.5 872.5,580.5 875.1,580.3 877.6,575.3 875.1,567.8 880.1,560.2 872.5,550.2 863.8,546.5 863.8,540.2 870.0,536.5 878.8,539.0 883.8,530.2 892.6,512.7"/>
<polygon fill="none" stroke="#0a0404" stroke-width="1.7" stroke-opacity="0.8" points="900.1,508.9 907.6,510.2 913.9,513.9 915.1,522.7 920.1,530.2 927.6,540.2 928.9,545.2 923.9,550.2 915.1,550.2 908.9,557.7 905.1,570.3 898.8,575.3 893.8,585.3 890.1,589.0 891.3,591.8 887.6,590.5 875.1,585.5 872.5,580.5 875.1,580.3 877.6,575.3 875.1,567.8 880.1,560.2 872.5,550.2 863.8,546.5 863.8,540.2 870.0,536.5 878.8,539.0 883.8,530.2 892.6,512.7"/>
<polygon fill="#6bab2d" stroke="#6bab2d" stroke-width="1.5" points="866.3,579.3 872.5,580.5 875.1,585.5 887.6,590.5 891.3,591.8 893.8,583.0 897.6,576.8 912.6,584.3 915.1,591.8 928.9,599.3 933.9,585.5 938.9,586.8 942.7,600.5 942.2,618.1 946.4,625.6 945.2,635.6 927.6,636.9 926.4,641.9 930.1,644.4 940.2,641.9 937.6,665.6 915.1,666.9 907.6,659.4 900.1,643.1 890.1,638.1 890.1,625.6 886.3,619.3 878.8,613.1 877.6,603.1 870.0,604.3 868.8,590.5"/>
<polygon fill="none" stroke="#0a0404" stroke-width="1.7" stroke-opacity="0.8" points="866.3,579.3 872.5,580.5 875.1,585.5 887.6,590.5 891.3,591.8 893.8,583.0 897.6,576.8 912.6,584.3 915.1,591.8 928.9,599.3 933.9,585.5 938.9,586.8 942.7,600.5 942.2,618.1 946.4,625.6 945.2,635.6 927.6,636.9 926.4,641.9 930.1,644.4 940.2,641.9 937.6,665.6 915.1,666.9 907.6,659.4 900.1,643.1 890.1,638.1 890.1,625.6 886.3,619.3 878.8,613.1 877.6,603.1 870.0,604.3 868.8,590.5"/>
<polygon fill="#5b2c83" stroke="#5b2c83" stroke-width="1.5" points="1010.3,552.7 1024.0,550.2 1029.0,552.7 1029.0,564.0 1040.3,560.2 1047.8,557.7 1047.8,570.3 1040.3,580.5 1027.8,578.0 1025.3,586.8 1006.5,593.0 996.5,604.3 997.7,595.5 1002.7,588.0 1005.2,583.0 1006.5,568.0 1006.5,562.7"/>
<polygon fill="none" stroke="#0a0404" stroke-width="1.7" stroke-opacity="0.8" points="1010.3,552.7 1024.0,550.2 1029.0,552.7 1029.0,564.0 1040.3,560.2 1047.8,557.7 1047.8,570.3 1040.3,580.5 1027.8,578.0 1025.3,586.8 1006.5,593.0 996.5,604.3 997.7,595.5 1002.7,588.0 1005.2,583.0 1006.5,568.0 1006.5,562.7"/>
<polyline fill="none" stroke="#0a0404" stroke-width="1.7" stroke-opacity="0.8" points="1047.8,568.0 1070.3,578.0 1072.8,570.5 1077.9,574.3 1087.9,586.8 1092.9,605.6 1099.1,621.8 1114.2,623.1 1116.7,621.8"/>
<polyline fill="none" stroke="#0a0404" stroke-width="1.7" stroke-opacity="0.8" points="1016.5,664.4 1002.7,679.4 1004.0,693.2 1036.5,690.7 1019.0,707.0 1020.3,720.7"/>
<polyline fill="none" stroke="#0a0404" stroke-width="1.7" stroke-opacity="0.8" points="1026.5,531.4 1026.5,539.0 1024.0,550.2"/>
<polyline fill="none" stroke="#0a0404" stroke-width="1.7" stroke-opacity="0.8" points="1239.3,363.4 1240.6,372.2 1236.8,382.2 1229.3,392.2 1206.8,398.5 1199.3,407.3 1189.2,412.3 1189.2,415.0"/>
<polyline fill="none" stroke="#0a0404" stroke-width="1.7" stroke-opacity="0.8" points="1265.6,374.7 1261.9,384.7 1258.1,402.3 1254.3,414.8 1246.8,418.5 1245.6,427.5 1253.1,432.5 1250.6,440.1 1244.3,446.3 1246.8,455.1 1251.8,462.6 1259.4,458.8 1260.6,457.6"/>
<polyline fill="none" stroke="#0a0404" stroke-width="1.7" stroke-opacity="0.8" points="1171.2,566.0 1170.5,594.3 1188.0,598.0 1180.2,565.5"/>
</g></svg>
<div class="a" style="left:0;top:757px;width:1366px;height:11px;background:#fff"></div>
<div class="a" style="left:0;top:757px;width:1366px;height:1.2px;background:#d6d6d6"></div>
<div class="a" style="left:980px;top:758px;width:312px;height:10px;background:#ebebed"></div>
</div>
</body>
</html>
